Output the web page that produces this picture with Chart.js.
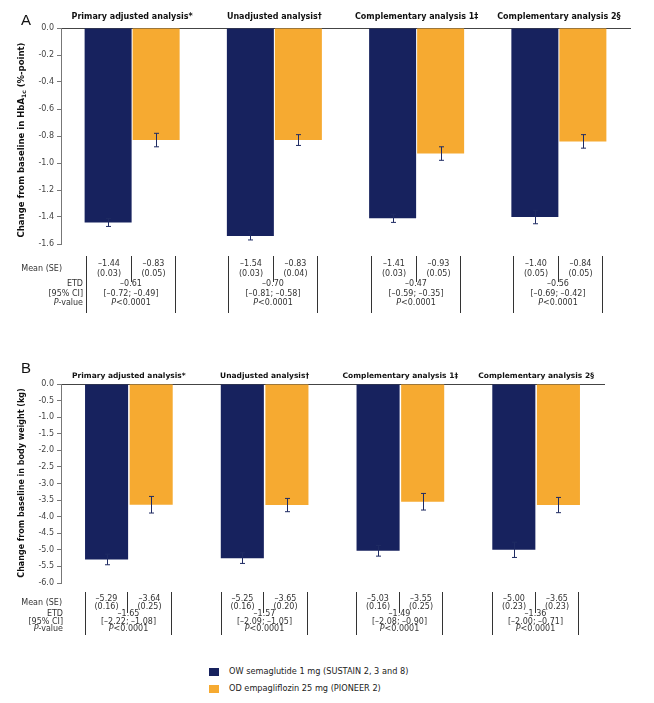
<!DOCTYPE html>
<html><head><meta charset="utf-8">
<script src="https://cdn.jsdelivr.net/npm/chart.js@4.4.1/dist/chart.umd.min.js"></script>
<style>
body{margin:0;background:#fff;width:654px;height:703px;position:relative;overflow:hidden;font-family:'DejaVu Sans',sans-serif}
#wa{position:absolute;left:0;top:0;width:654px;height:330px}
#wb{position:absolute;left:0;top:340px;width:654px;height:300px}
.lg{position:absolute;left:209px;font:8.2px 'DejaVu Sans',sans-serif;color:#222;white-space:nowrap}
.sw{display:inline-block;width:10px;height:8px;vertical-align:middle;margin-right:10px}
</style></head><body>
<div id="wa"><canvas id="ca"></canvas></div>
<div id="wb"><canvas id="cb"></canvas></div>
<div class="lg" style="top:666px"><span class="sw" id="sw0"></span><span id="lt0"></span></div>
<div class="lg" style="top:683px"><span class="sw" id="sw1"></span><span id="lt1"></span></div>
<script>
// ---- data ----
const categories = ["Primary adjusted analysis*", "Unadjusted analysis\u2020", "Complementary analysis 1\u2021", "Complementary analysis 2\u00a7"];
const seriesNames = ["OW semaglutide 1 mg (SUSTAIN 2, 3 and 8)", "OD empagliflozin 25 mg (PIONEER 2)"];
const hbSema = [-1.44, -1.54, -1.41, -1.40];
const hbSemaSE = [0.03, 0.03, 0.03, 0.05];
const hbEmpa = [-0.83, -0.83, -0.93, -0.84];
const hbEmpaSE = [0.05, 0.04, 0.05, 0.05];
const hbETD = [-0.61, -0.70, -0.47, -0.56];
const hbCILow = [-0.72, -0.81, -0.59, -0.69];
const hbCIHigh = [-0.49, -0.58, -0.35, -0.42];
const bwSema = [-5.29, -5.25, -5.03, -5.00];
const bwSemaSE = [0.16, 0.16, 0.16, 0.23];
const bwEmpa = [-3.64, -3.65, -3.55, -3.65];
const bwEmpaSE = [0.25, 0.20, 0.25, 0.23];
const bwETD = [-1.65, -1.57, -1.49, -1.36];
const bwCILow = [-2.22, -2.09, -2.08, -2.00];
const bwCIHigh = [-1.08, -1.05, -0.90, -0.71];
const pValueText = ["<0.0001", "<0.0001", "<0.0001", "<0.0001"];
const hbAxis = {min: -1.6, max: 0, step: 0.2};
const bwAxis = {min: -6.0, max: 0, step: 0.5};
const rowLabels = ["Mean (SE)", "ETD", "[95% CI]", "P", "-value"];

const NAVY = '#17225e', ORANGE = '#f6aa31', EBAR = '#1f2b63';
const FONT = "'DejaVu Sans', sans-serif";

document.getElementById('sw0').style.background = NAVY;
document.getElementById('sw1').style.background = ORANGE;
document.getElementById('lt0').textContent = seriesNames[0];
document.getElementById('lt1').textContent = seriesNames[1];

const fmt = v => (v < 0 ? '\u2013' : '') + Math.abs(v).toFixed(2);

function drawP(ctx, x, y, pre, rest, align, size) {
  ctx.font = 'italic ' + size + 'px ' + FONT;
  const w1 = ctx.measureText(pre).width;
  ctx.font = size + 'px ' + FONT;
  const w2 = ctx.measureText(rest).width;
  let sx = align === 'center' ? x - (w1 + w2) / 2 : x - (w1 + w2);
  ctx.textAlign = 'left';
  ctx.font = 'italic ' + size + 'px ' + FONT;
  ctx.fillText(pre, sx, y);
  ctx.font = size + 'px ' + FONT;
  ctx.fillText(rest, sx + w1, y);
}

function panelPlugin(o) {
  return {
    id: 'panel' + o.letter,
    afterDatasetsDraw(chart) {
      const ctx = chart.ctx, ys = chart.scales.y;
      ctx.save();
      ctx.strokeStyle = EBAR; ctx.lineWidth = 1;
      chart.data.datasets.forEach((ds, di) => {
        const meta = chart.getDatasetMeta(di);
        meta.data.forEach((bar, i) => {
          const v = ds.data[i], e = ds.se[i];
          const x = Math.round(bar.x) + 0.5;
          const y1 = ys.getPixelForValue(v - e), y2 = ys.getPixelForValue(v + e);
          ctx.beginPath();
          ctx.moveTo(x, y1); ctx.lineTo(x, y2);
          ctx.moveTo(x - 2.5, y1); ctx.lineTo(x + 2.5, y1);
          ctx.moveTo(x - 2.5, y2); ctx.lineTo(x + 2.5, y2);
          ctx.stroke();
        });
      });
      ctx.restore();
    },
    afterDraw(chart) {
      const ctx = chart.ctx, ca = chart.chartArea, xs = chart.scales.x;
      ctx.save();
      // panel letter
      ctx.fillStyle = '#111';
      ctx.font = "15px 'Liberation Sans', sans-serif";
      ctx.textAlign = 'left'; ctx.textBaseline = 'alphabetic';
      ctx.fillText(o.letter, 21, o.letterY);
      // y title
      ctx.save();
      ctx.translate(o.titleX, o.titleY);
      ctx.rotate(-Math.PI / 2);
      const big = 'bold ' + o.titleSize + 'px ' + FONT, small = 'bold ' + (o.titleSize - 2.5) + 'px ' + FONT;
      let total = 0;
      o.title.forEach(p => { ctx.font = p.sub ? small : big; total += ctx.measureText(p.t).width; });
      let cx = -total / 2;
      ctx.fillStyle = '#111'; ctx.textBaseline = 'middle';
      o.title.forEach(p => {
        ctx.font = p.sub ? small : big;
        ctx.fillText(p.t, cx, p.sub ? 2.5 : 0);
        cx += ctx.measureText(p.t).width;
      });
      ctx.restore();
      // table
      const b = ca.bottom, r = o.rows, s = o.tableSize;
      ctx.fillStyle = '#333'; ctx.textBaseline = 'middle';
      ctx.font = s + 'px ' + FONT; ctx.textAlign = 'right';
      ctx.fillText(rowLabels[0], o.labX1, b + r.meanLbl);
      ctx.fillText(rowLabels[1], o.labX2, b + r.etd);
      ctx.fillText(rowLabels[2], o.labX2, b + r.ci);
      drawP(ctx, o.labX2, b + r.p, rowLabels[3], rowLabels[4], 'right', s);
      ctx.strokeStyle = '#333'; ctx.lineWidth = 1;
      for (let i = 0; i < categories.length; i++) {
        const c = xs.getPixelForValue(i);
        const xl = Math.round(c + o.lines.l) + 0.5, xm = Math.round(c + o.lines.m) + 0.5, xr = Math.round(c + o.lines.r) + 0.5;
        ctx.beginPath();
        ctx.moveTo(xl, b + o.lines.top); ctx.lineTo(xl, b + o.lines.bot);
        ctx.moveTo(xr, b + o.lines.top); ctx.lineTo(xr, b + o.lines.bot);
        ctx.moveTo(xm, b + o.lines.top); ctx.lineTo(xm, b + o.lines.mid);
        ctx.stroke();
        ctx.font = s + 'px ' + FONT; ctx.textAlign = 'center';
        const c1 = (xl + xm) / 2, c2 = (xm + xr) / 2;
        ctx.fillText(fmt(o.sema[i]), c1, b + r.m1);
        ctx.fillText('(' + o.semaSE[i].toFixed(2) + ')', c1, b + r.m2);
        ctx.fillText(fmt(o.empa[i]), c2, b + r.m1);
        ctx.fillText('(' + o.empaSE[i].toFixed(2) + ')', c2, b + r.m2);
        const cc = (xl + xr) / 2;
        ctx.fillText(fmt(o.etd[i]), cc, b + r.etd);
        ctx.fillText('[' + fmt(o.ciLo[i]) + '; ' + fmt(o.ciHi[i]) + ']', cc, b + r.ci);
        drawP(ctx, cc, b + r.p, 'P', pValueText[i], 'center', s);
      }
      ctx.restore();
    }
  };
}

function build(id, o) {
  return new Chart(document.getElementById(id), {
    type: 'bar',
    data: {
      labels: categories,
      datasets: [
        {label: seriesNames[0], data: o.sema, se: o.semaSE, backgroundColor: NAVY, borderWidth: 0,
         categoryPercentage: o.catPct, barPercentage: o.barPct},
        {label: seriesNames[1], data: o.empa, se: o.empaSE, backgroundColor: ORANGE, borderWidth: 0,
         categoryPercentage: o.catPct, barPercentage: o.barPct}
      ]
    },
    options: {
      responsive: true, maintainAspectRatio: false, animation: false,
      layout: {padding: {left: 0, right: o.padRight, top: 0, bottom: o.padBottom}},
      plugins: {legend: {display: false}, tooltip: {enabled: false}},
      scales: {
        x: {
          position: 'top',
          grid: {display: false, drawTicks: false},
          border: {display: true, color: '#444', width: 1},
          ticks: {color: '#111', font: {family: FONT, size: o.headSize, weight: 'bold'}, padding: o.headPad, maxRotation: 0, autoSkip: false},
          afterFit: s => { s.height = o.xHeight; }
        },
        y: {
          min: o.axis.min, max: o.axis.max,
          grid: {display: true, drawOnChartArea: false, tickLength: 4, color: '#777'},
          border: {display: true, color: '#777', width: 1},
          ticks: {stepSize: o.axis.step, color: '#444', font: {family: FONT, size: 8}, padding: 3,
                  callback: v => (Math.abs(v) < 1e-9 ? 0 : v).toFixed(1)},
          afterFit: s => { s.width = 61; }
        }
      }
    },
    plugins: [panelPlugin(o)]
  });
}

build('ca', {
  letter: 'A', letterY: 25, sema: hbSema, semaSE: hbSemaSE, empa: hbEmpa, empaSE: hbEmpaSE,
  etd: hbETD, ciLo: hbCILow, ciHi: hbCIHigh, axis: hbAxis,
  catPct: 0.675, barPct: 0.979, padRight: 24, padBottom: 86, xHeight: 28, headSize: 8, headPad: 6,
  title: [{t: 'Change from baseline in HbA'}, {t: '1c', sub: true}, {t: ' (%-point)'}],
  titleX: 22, titleY: 140, titleSize: 8.5,
  tableSize: 8, labX1: 62, labX2: 83,
  rows: {m1: 20, m2: 30, meanLbl: 25, etd: 40, ci: 50, p: 59},
  lines: {l: -46, m: -1, r: 43, top: 12, mid: 38, bot: 69}
});

build('cb', {
  letter: 'B', letterY: 33, sema: bwSema, semaSE: bwSemaSE, empa: bwEmpa, empaSE: bwEmpaSE,
  etd: bwETD, ciLo: bwCILow, ciHi: bwCIHigh, axis: bwAxis,
  catPct: 0.657, barPct: 0.966, padRight: 50, padBottom: 57, xHeight: 44, headSize: 7.5, headPad: 3,
  title: [{t: 'Change from baseline in body weight (kg)'}],
  titleX: 22, titleY: 143, titleSize: 8,
  tableSize: 8, labX1: 62, labX2: 63,
  rows: {m1: 16, m2: 24, meanLbl: 20, etd: 31, ci: 39, p: 46},
  lines: {l: -44, m: -1.5, r: 42, top: 9, mid: 30, bot: 52}
});
</script>
</body></html>
